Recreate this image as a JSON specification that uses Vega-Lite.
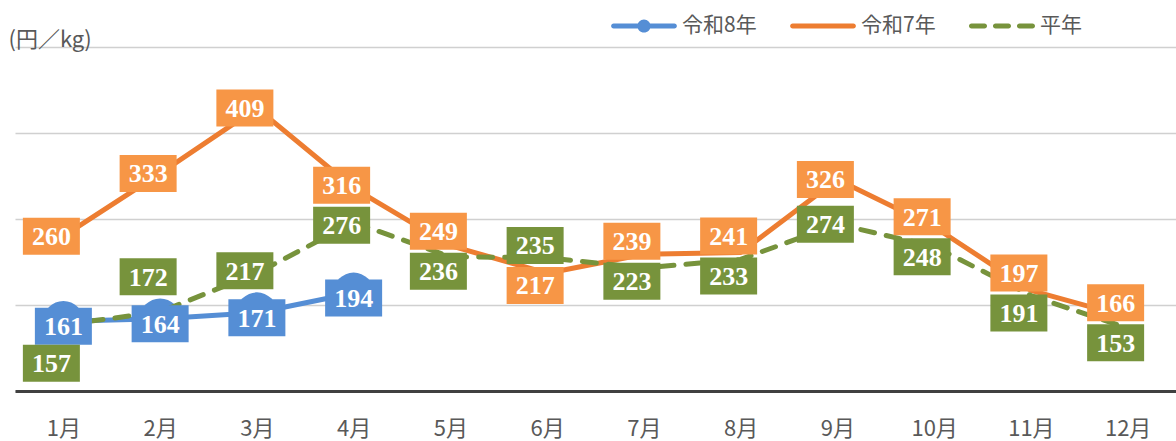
{
  "$schema": "https://vega.github.io/schema/vega-lite/v6.json",
  "width": 1161,
  "height": 344,
  "autosize": "none",
  "padding": {"left": 15, "top": 47, "right": 0, "bottom": 50},
  "background": "white",
  "config": {"view": {"stroke": null}, "font": "Noto Sans CJK JP"},
  "data": {
    "values": [
      {"month": "1月", "series": "令和8年", "value": 161},
      {"month": "2月", "series": "令和8年", "value": 164},
      {"month": "3月", "series": "令和8年", "value": 171},
      {"month": "4月", "series": "令和8年", "value": 194},
      {"month": "1月", "series": "令和7年", "value": 260},
      {"month": "2月", "series": "令和7年", "value": 333},
      {"month": "3月", "series": "令和7年", "value": 409},
      {"month": "4月", "series": "令和7年", "value": 316},
      {"month": "5月", "series": "令和7年", "value": 249},
      {"month": "6月", "series": "令和7年", "value": 217},
      {"month": "7月", "series": "令和7年", "value": 239},
      {"month": "8月", "series": "令和7年", "value": 241},
      {"month": "9月", "series": "令和7年", "value": 326},
      {"month": "10月", "series": "令和7年", "value": 271},
      {"month": "11月", "series": "令和7年", "value": 197},
      {"month": "12月", "series": "令和7年", "value": 166},
      {"month": "1月", "series": "平年", "value": 157},
      {"month": "2月", "series": "平年", "value": 172},
      {"month": "3月", "series": "平年", "value": 217},
      {"month": "4月", "series": "平年", "value": 276},
      {"month": "5月", "series": "平年", "value": 236},
      {"month": "6月", "series": "平年", "value": 235},
      {"month": "7月", "series": "平年", "value": 223},
      {"month": "8月", "series": "平年", "value": 233},
      {"month": "9月", "series": "平年", "value": 274},
      {"month": "10月", "series": "平年", "value": 248},
      {"month": "11月", "series": "平年", "value": 191},
      {"month": "12月", "series": "平年", "value": 153}
    ]
  },
  "encoding": {
    "x": {
      "field": "month",
      "type": "ordinal",
      "scale": {"type": "point", "padding": 0.5, "domain": ["1月","2月","3月","4月","5月","6月","7月","8月","9月","10月","11月","12月"]},
      "axis": {
        "title": null,
        "labelAngle": 0,
        "labelFontSize": 22,
        "labelColor": "#595959",
        "labelFont": "Noto Sans CJK JP",
        "labelBaseline": "middle",
        "ticks": false,
        "tickSize": 0,
        "labelPadding": 37,
        "domainColor": "#404040",
        "domainWidth": 3,
        "grid": false,
        "zindex": 1
      }
    }
  },
  "layer": [
    {
      "transform": [{"filter": "datum.series === '令和8年'"}],
      "mark": {"type": "line", "color": "#558ED5", "strokeWidth": 5, "strokeCap": "round", "strokeJoin": "round"},
      "encoding": {
        "y": {
          "field": "value",
          "type": "quantitative",
          "scale": {"domain": [80, 480], "nice": false, "zero": false},
          "axis": {
            "title": "(円／kg)",
            "titleAngle": 0,
            "titleX": -7,
            "titleY": -8,
            "titleAlign": "left",
            "titleBaseline": "middle",
            "titleFontSize": 22,
            "titleFontWeight": "normal",
            "titleColor": "#595959",
            "titleFont": "Noto Sans CJK JP",
            "labels": false,
            "ticks": false,
            "domain": false,
            "grid": true,
            "gridColor": "#D0D0D0",
            "gridWidth": 1.5,
            "values": [80, 180, 280, 380, 480]
          }
        }
      }
    },
    {
      "transform": [{"filter": "datum.series === '令和8年'"}],
      "mark": {"type": "point", "filled": true, "opacity": 1, "color": "#558ED5", "size": 1660, "shape": "circle"},
      "encoding": {"y": {"field": "value", "type": "quantitative"}}
    },
    {
      "transform": [{"filter": "datum.series === '令和7年'"}],
      "mark": {"type": "line", "color": "#ED7D31", "strokeWidth": 5, "strokeCap": "round", "strokeJoin": "round"},
      "encoding": {"y": {"field": "value", "type": "quantitative"}}
    },
    {
      "transform": [{"filter": "datum.series === '平年'"}],
      "mark": {"type": "line", "color": "#77933C", "strokeWidth": 5, "strokeCap": "round", "strokeJoin": "round", "strokeDash": [14, 12]},
      "encoding": {"y": {"field": "value", "type": "quantitative"}}
    },
    {
      "mark": {"type": "point", "filled": true, "opacity": 0},
      "encoding": {
        "y": {"field": "value", "type": "quantitative"},
        "color": {
          "field": "series",
          "type": "nominal",
          "scale": {"domain": ["令和8年", "令和7年", "平年"], "range": ["#558ED5", "#ED7D31", "#77933C"]},
          "legend": {
            "orient": "none", "legendX": 596, "legendY": -54, "direction": "horizontal", "columns": 3,
            "title": null, "symbolSize": 4356, "labelFontSize": 21, "labelColor": "#595959",
            "labelFont": "Noto Sans CJK JP", "labelOffset": 5, "columnPadding": 33,
            "symbolOpacity": 1, "symbolStrokeWidth": 0, "padding": 0, "labelLimit": 300
          }
        },
        "shape": {
          "field": "series",
          "type": "nominal",
          "scale": {
            "domain": ["令和8年", "令和7年", "平年"],
            "range": [
              "M-0.92,-0.076 H0.92 A0.076,0.076 0 0 1 0.92,0.076 H-0.92 A0.076,0.076 0 0 1 -0.92,-0.076 Z M0.2,0 A0.2,0.2 0 1 1 -0.2,0 A0.2,0.2 0 1 1 0.2,0 Z",
              "M-0.92,-0.076 H0.92 A0.076,0.076 0 0 1 0.92,0.076 H-0.92 A0.076,0.076 0 0 1 -0.92,-0.076 Z",
              "M-0.924,-0.076 H-0.53 A0.076,0.076 0 0 1 -0.53,0.076 H-0.924 A0.076,0.076 0 0 1 -0.924,-0.076 Z M-0.197,-0.076 H0.197 A0.076,0.076 0 0 1 0.197,0.076 H-0.197 A0.076,0.076 0 0 1 -0.197,-0.076 Z M0.53,-0.076 H0.924 A0.076,0.076 0 0 1 0.924,0.076 H0.53 A0.076,0.076 0 0 1 0.53,-0.076 Z"
            ]
          },
          "legend": {
            "orient": "none", "legendX": 596, "legendY": -54, "direction": "horizontal", "columns": 3,
            "title": null, "symbolSize": 4356, "labelFontSize": 21, "labelColor": "#595959",
            "labelFont": "Noto Sans CJK JP", "labelOffset": 5, "columnPadding": 33,
            "symbolOpacity": 1, "symbolStrokeWidth": 0, "padding": 0, "labelLimit": 300
          }
        }
      }
    },
    {
      "transform": [
        {"pivot": "series", "value": "value", "groupby": ["month"], "op": "max"},
        {"calculate": "(datum['令和7年'] - datum['平年']) * 0.86", "as": "dOG"},
        {"calculate": "max(0, 40 - abs(datum.dOG))", "as": "needO"},
        {"calculate": "datum.dOG >= 0 ? 1 : -1", "as": "sO"},
        {"calculate": "isValid(datum['令和8年']) ? (datum['平年'] - datum['令和8年']) * 0.86 : 999", "as": "dGB"},
        {"calculate": "max(0, 42 - abs(datum.dGB))", "as": "needB"},
        {"calculate": "datum.dGB >= 0 ? 1 : -1", "as": "sB"},
        {"calculate": "-datum.sO * datum.needO / 2", "as": "oOff"},
        {"calculate": "datum.sO * datum.needO / 2 - datum.sB * datum.needB", "as": "gOff"},
        {"fold": ["令和8年", "令和7年", "平年"], "as": ["series", "value"]},
        {"filter": "isValid(datum.value)"},
        {"calculate": "datum.series === '令和8年' ? 5 : (datum.series === '令和7年' ? datum.oOff : datum.gOff)", "as": "offY"},
        {"calculate": "datum.value - datum.offY / 0.86", "as": "labelPos"},
        {"calculate": "datum.series === '令和8年' ? 0 : -12", "as": "offX"}
      ],
      "encoding": {
        "y": {"field": "labelPos", "type": "quantitative"},
        "xOffset": {"field": "offX", "type": "quantitative", "scale": null}
      },
      "layer": [
        {
          "mark": {"type": "point", "filled": true, "opacity": 1, "size": 3249, "shape": "M-1,-0.649 H1 V0.649 H-1 Z", "strokeWidth": 0},
          "encoding": {
            "fill": {
              "field": "series",
              "type": "nominal",
              "scale": {"domain": ["令和8年", "令和7年", "平年"], "range": ["#558ED5", "#F79646", "#77933C"]},
              "legend": null
            }
          }
        },
        {
          "mark": {"type": "text", "font": "Liberation Serif", "fontWeight": "bold", "fontSize": 26, "fill": "white", "align": "center", "baseline": "middle", "dy": 1},
          "encoding": {
            "text": {"field": "value", "type": "quantitative"}
          }
        }
      ]
    }
  ]
}
